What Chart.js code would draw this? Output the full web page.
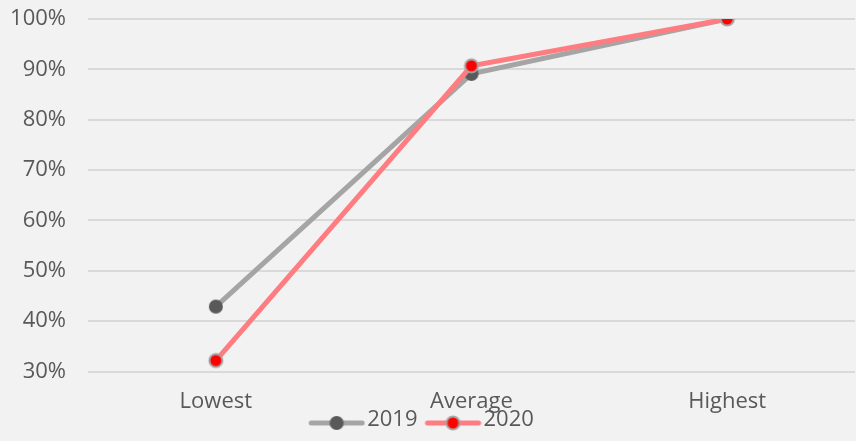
<!DOCTYPE html>
<html>
<head>
<meta charset="utf-8">
<script src="https://cdn.jsdelivr.net/npm/chart.js@4"></script>
<style>
  html, body { margin: 0; padding: 0; background: #f2f2f2; overflow: hidden; }
  #wrap { width: 856px; height: 441px; position: relative; }
</style>
</head>
<body>
<div id="wrap"><canvas id="chart"></canvas></div>
<script>
const categories = ["Lowest", "Average", "Highest"];
const values2019 = [42.9, 89.1, 100];
const values2020 = [32.2, 90.7, 100];
const yTicks = [30, 40, 50, 60, 70, 80, 90, 100];

const textColor = "#595959";
const fontFamily = "'Open Sans', sans-serif";

// round marker drawn once on a small canvas and used as the point style
function marker(fill, border, r, bw) {
  const c = document.createElement("canvas");
  c.width = 18;
  c.height = 18;
  const ctx = c.getContext("2d");
  ctx.beginPath();
  ctx.arc(9, 9, r, 0, Math.PI * 2);
  ctx.fillStyle = fill;
  ctx.fill();
  if (bw) {
    ctx.lineWidth = bw;
    ctx.strokeStyle = border;
    ctx.stroke();
  }
  return c;
}

// legend swatch: short thick line with the marker on it,
// drawn in the right part of the canvas so it sits close to its text
function legendSwatch(lineColor, mark) {
  const c = document.createElement("canvas");
  c.width = 65;
  c.height = 22;
  const ctx = c.getContext("2d");
  const x0 = 8, y0 = 14;
  ctx.strokeStyle = lineColor;
  ctx.lineWidth = 5;
  ctx.lineCap = "round";
  ctx.beginPath();
  ctx.moveTo(x0 + 3, y0);
  ctx.lineTo(x0 + 54, y0);
  ctx.stroke();
  ctx.drawImage(mark, x0 + 28.5 - 9, y0 - 9);
  return c;
}

const marker2019 = marker("#595959", "#595959", 7, 0);
const marker2020 = marker("#ff0000", "#a5a5a5", 6.5, 2);
const swatches = [
  legendSwatch("#a5a5a5", marker2019),
  legendSwatch("#ff7c80", marker2020),
];

new Chart(document.getElementById("chart"), {
  type: "line",
  data: {
    labels: categories,
    datasets: [
      {
        label: "2019",
        data: values2019,
        borderColor: "#a5a5a5",
        borderWidth: 5,
        pointStyle: marker2019,
        pointRadius: 1,
        pointHoverRadius: 0,
        pointBorderWidth: 0,
        order: 2,
      },
      {
        label: "2020",
        data: values2020,
        borderColor: "#ff7c80",
        borderWidth: 5,
        pointStyle: marker2020,
        pointRadius: 1,
        pointHoverRadius: 0,
        pointBorderWidth: 0,
        order: 1,
      },
    ],
  },
  options: {
    responsive: true,
    maintainAspectRatio: false,
    animation: false,
    layout: { padding: { top: 19, right: 1, left: -12, bottom: 0 } },
    plugins: {
      tooltip: { enabled: false },
      legend: {
        position: "bottom",
        labels: {
          usePointStyle: true,
          pointStyleWidth: 47,
          padding: 8,
          color: textColor,
          font: { family: fontFamily, size: 22 },
          generateLabels: (chart) =>
            chart.data.datasets.map((ds, i) => ({
              text: ds.label,
              pointStyle: swatches[i],
              fontColor: textColor,
              lineWidth: 0,
              strokeStyle: "transparent",
              fillStyle: "transparent",
              datasetIndex: i,
            })),
        },
      },
    },
    scales: {
      x: {
        offset: true,
        grid: { display: false },
        border: { display: false },
        afterFit: (axis) => {
          axis.paddingLeft = 0;
          axis.paddingRight = 0;
          axis.height -= 23;
          // labels may run below the shortened axis box
          axis._computeLabelArea = () => undefined;
        },
        ticks: {
          color: textColor,
          font: { family: fontFamily, size: 22 },
          padding: 9,
        },
      },
      y: {
        min: 30,
        max: 100,
        afterFit: (axis) => {
          axis.width = 100;
          axis.paddingTop = 0;
          axis.paddingBottom = 0;
        },
        afterBuildTicks: (axis) => {
          axis.ticks = yTicks.map((v) => ({ value: v }));
        },
        grid: { color: "#d9d9d9", lineWidth: 2, drawTicks: false },
        border: { display: false },
        ticks: {
          color: textColor,
          font: { family: fontFamily, size: 22 },
          padding: 22,
          callback: (v) => v + "%",
        },
      },
    },
  },
});
</script>
</body>
</html>
